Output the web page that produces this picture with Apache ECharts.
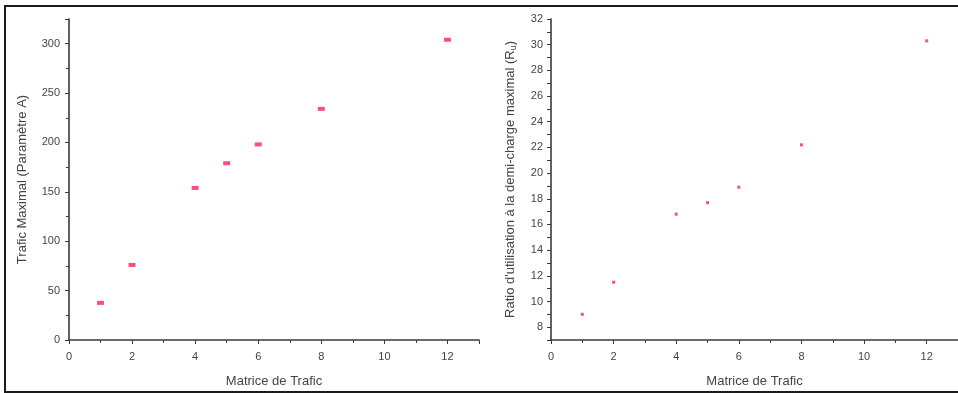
<!DOCTYPE html>
<html>
<head>
<meta charset="utf-8">
<script src="https://cdn.jsdelivr.net/npm/echarts@6/dist/echarts.min.js"></script>
<style>
  html, body { margin: 0; padding: 0; background: #fff; }
  #chart { width: 958px; height: 393px; }
</style>
</head>
<body>
<div id="chart"></div>
<script>
// Traffic matrix index shared by both panels
const matrices = [1, 2, 4, 5, 6, 8, 12];
// Left panel: maximal traffic (parameter A)
const traficMaximal = [37.6, 76, 154, 179, 198, 234, 304];
// Right panel: utilisation ratio at maximal half-load (Ru)
const ratioUtilisation = [9.0, 11.5, 16.8, 17.7, 18.9, 22.2, 30.3];

const xTitle = 'Matrice de Trafic';
const leftTitle = 'Trafic Maximal (Paramètre A)';
const rightTitle = "Ratio d'utilisation à la demi-charge maximal (R{sub|u})";

const markColor = '#ff2352';
const axisColor = '#3a3a3a';
const labelColor = '#444';
const fontFamily = '"Liberation Sans", Arial, sans-serif';

const chart = echarts.init(document.getElementById('chart'), null, { renderer: 'canvas' });

function xAxisCfg(gridIndex) {
  return {
    type: 'value', gridIndex, min: 0, max: 13, interval: 2,
    name: xTitle, nameLocation: 'middle', nameGap: 35,
    nameTextStyle: { fontFamily, fontSize: 13, color: labelColor },
    axisLine: { show: true, onZero: false, lineStyle: { color: axisColor, width: 1.6 } },
    axisTick: { show: true, inside: false, length: 4, lineStyle: { color: axisColor } },
    minorTick: { show: true, splitNumber: 2, length: 3, lineStyle: { color: axisColor } },
    axisLabel: { fontFamily, fontSize: 11, color: labelColor, margin: 11, showMaxLabel: false },
    splitLine: { show: false }
  };
}

const option = {
  backgroundColor: '#fff',
  animation: false,
  grid: [
    { left: 69, top: 19, right: 479, bottom: 52 },
    { left: 551, top: 19, right: -3, bottom: 52 }
  ],
  xAxis: [xAxisCfg(0), xAxisCfg(1)],
  yAxis: [
    {
      type: 'value', gridIndex: 0, min: 0, max: 325, interval: 50,
      name: leftTitle, nameLocation: 'middle', nameGap: 40, nameRotate: 90,
      nameTextStyle: { fontFamily, fontSize: 13, color: labelColor },
      axisLine: { show: true, onZero: false, lineStyle: { color: axisColor, width: 1.6 } },
      axisTick: { show: true, length: 4, lineStyle: { color: axisColor } },
      minorTick: { show: true, splitNumber: 2, length: 3, lineStyle: { color: axisColor } },
      axisLabel: { fontFamily, fontSize: 11, color: labelColor, margin: 9, showMaxLabel: false },
      splitLine: { show: false }
    },
    {
      type: 'value', gridIndex: 1, min: 7, max: 32, interval: 1,
      name: rightTitle, nameLocation: 'middle', nameGap: 33, nameRotate: 90,
      nameTextStyle: {
        fontFamily, fontSize: 13, color: labelColor,
        rich: { sub: { fontFamily, fontSize: 9, color: labelColor, verticalAlign: 'bottom', padding: [6, 0, 0, 0] } }
      },
      axisLine: { show: true, onZero: false, lineStyle: { color: axisColor, width: 1.6 } },
      axisTick: { show: true, length: 4, lineStyle: { color: axisColor } },
      axisLabel: {
        fontFamily, fontSize: 11, color: labelColor, margin: 8,
        formatter: v => (v % 2 === 0 ? String(v) : '')
      },
      splitLine: { show: false }
    }
  ],
  series: [
    {
      type: 'scatter', xAxisIndex: 0, yAxisIndex: 0,
      symbol: 'rect', symbolSize: [7, 4],
      itemStyle: { color: markColor },
      data: matrices.map((m, i) => [m, traficMaximal[i]])
    },
    {
      type: 'scatter', xAxisIndex: 1, yAxisIndex: 1,
      symbol: 'rect', symbolSize: [3, 3],
      itemStyle: { color: markColor },
      data: matrices.map((m, i) => [m, ratioUtilisation[i]])
    }
  ],
  graphic: [
    {
      type: 'rect', silent: true, z: 100,
      shape: { x: 5, y: 6, width: 1000, height: 386 },
      style: { fill: 'none', stroke: '#1a1a1a', lineWidth: 2 }
    }
  ]
};

chart.setOption(option);
</script>
</body>
</html>
